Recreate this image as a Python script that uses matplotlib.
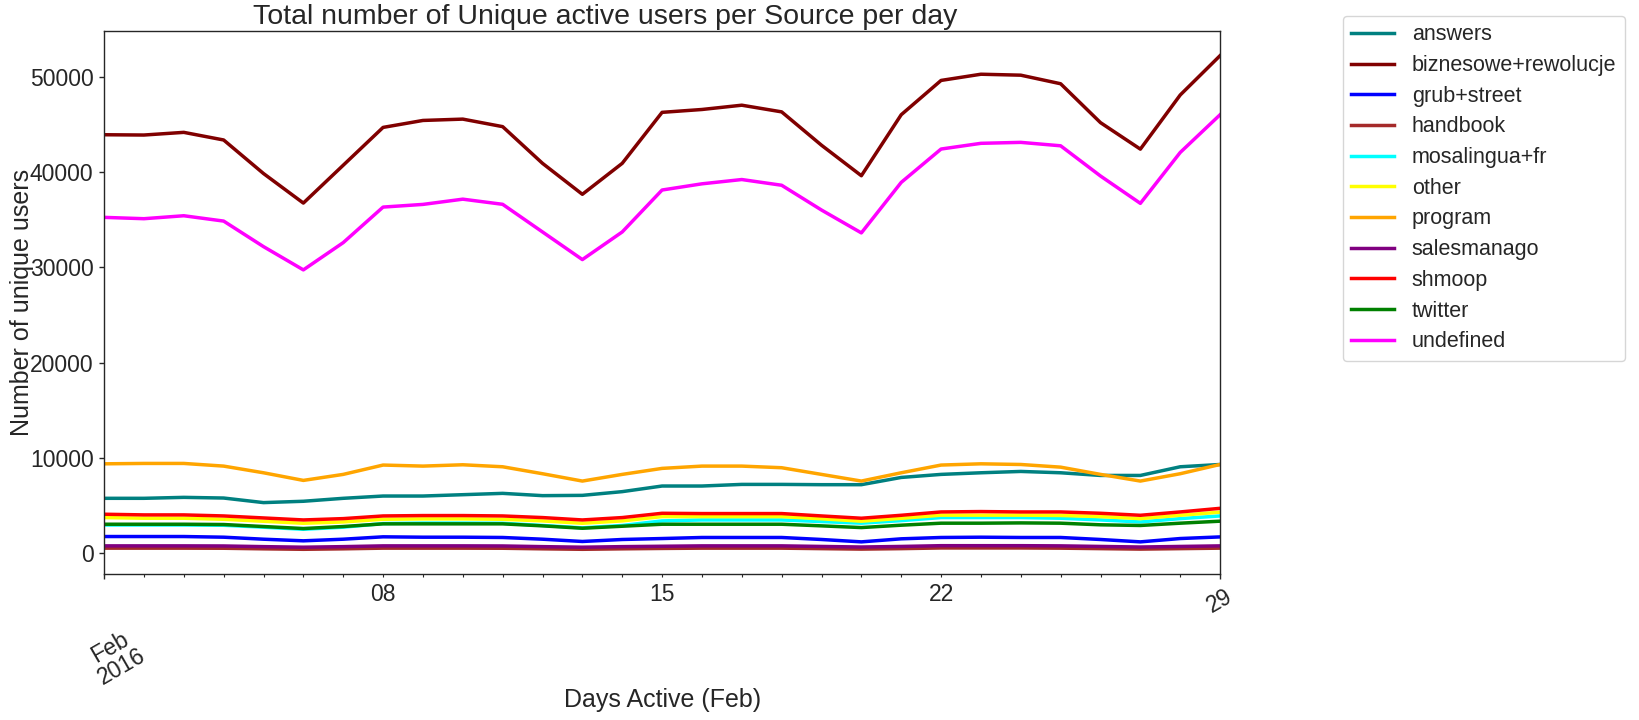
import matplotlib
matplotlib.use("Agg")
import matplotlib.pyplot as plt
import matplotlib.dates as mdates
from matplotlib.ticker import FixedLocator, FixedFormatter
import pandas as pd

dates = pd.date_range("2016-02-01", periods=29, freq="D")

answers = [5750, 5750, 5850, 5780, 5300, 5440, 5750, 5990, 5990, 6130, 6270, 6030, 6060, 6450,
           7040, 7040, 7210, 7210, 7180, 7180, 7940, 8260, 8430, 8570, 8430, 8150, 8150, 9060, 9300]
biznesowe = [43900, 43870, 44150, 43350, 39830, 36730, 40700, 44670, 45400, 45540, 44750, 40900, 37650, 40900,
             46250, 46550, 47000, 46300, 42800, 39600, 46000, 49600, 50250, 50150, 49250, 45170, 42390, 48070, 52200]
grub_street = [1740, 1740, 1740, 1670, 1460, 1290, 1460, 1710, 1670, 1670, 1640, 1460, 1220, 1430,
               1530, 1640, 1640, 1640, 1430, 1180, 1500, 1640, 1670, 1640, 1640, 1430, 1180, 1530, 1700]
handbook = [520, 520, 520, 510, 450, 400, 450, 520, 520, 520, 510, 450, 400, 450,
            490, 520, 520, 520, 470, 420, 470, 540, 540, 540, 520, 470, 420, 470, 520]
mosalingua = [2950, 2950, 2950, 2920, 2720, 2500, 2720, 3100, 3150, 3150, 3130, 2900, 2650, 2900,
              3380, 3480, 3480, 3480, 3310, 3140, 3410, 3730, 3730, 3730, 3660, 3480, 3270, 3620, 3900]
other = [3730, 3660, 3660, 3550, 3340, 3130, 3270, 3550, 3590, 3590, 3550, 3380, 3130, 3380,
         3830, 3830, 3830, 3830, 3600, 3350, 3650, 3980, 3980, 3980, 3950, 3830, 3620, 3970, 4300]
program = [9370, 9410, 9410, 9130, 8430, 7630, 8260, 9240, 9130, 9270, 9060, 8330, 7560, 8260,
           8890, 9130, 9130, 8960, 8260, 7560, 8430, 9240, 9370, 9300, 9020, 8260, 7560, 8330, 9300]
salesmanago = [760, 760, 760, 750, 680, 620, 680, 760, 760, 760, 750, 680, 620, 680,
               720, 760, 760, 760, 700, 640, 700, 780, 780, 780, 760, 700, 640, 700, 760]
shmoop = [4080, 4010, 4010, 3900, 3690, 3480, 3620, 3900, 3940, 3940, 3900, 3730, 3480, 3730,
          4180, 4150, 4150, 4150, 3900, 3660, 3970, 4320, 4360, 4320, 4320, 4180, 3970, 4320, 4700]
twitter = [3030, 3030, 3030, 3000, 2790, 2580, 2790, 3070, 3070, 3070, 3070, 2860, 2610, 2820,
           3030, 3030, 3030, 3030, 2860, 2680, 2930, 3140, 3140, 3170, 3140, 2970, 2900, 3140, 3350]
undefined = [35230, 35090, 35400, 34840, 32160, 29720, 32580, 36310, 36590, 37140, 36600, 33700, 30800, 33700,
             38100, 38750, 39200, 38600, 36000, 33600, 38900, 42400, 43000, 43100, 42740, 39570, 36700, 42040, 46000]

labels = ["answers", "biznesowe+rewolucje", "grub+street", "handbook", "mosalingua+fr", "other",
          "program", "salesmanago", "shmoop", "twitter", "undefined"]
series = [answers, biznesowe, grub_street, handbook, mosalingua, other, program, salesmanago,
          shmoop, twitter, undefined]
colors = ["#008080", "#800000", "#0000ff", "#a52a2a", "#00ffff", "#ffff00", "#ffa500", "#800080",
          "#ff0000", "#008000", "#ff00ff"]

minor_labels_days = [8, 15, 22]

txt = "#262626"
plt.rcParams["font.family"] = ["Liberation Sans", "DejaVu Sans"]
plt.rcParams["text.color"] = txt
plt.rcParams["axes.labelcolor"] = txt
plt.rcParams["xtick.color"] = txt
plt.rcParams["ytick.color"] = txt

fig = plt.figure(figsize=(16.39, 7.2), dpi=100)
ax = fig.add_axes([0.0635, 0.2028, 0.6809, 0.7542])

xd = mdates.date2num(dates.to_pydatetime())
for s, lab, c in zip(series, labels, colors):
    ax.plot(xd, s, color=c, lw=2.5, label=lab)

ax.set_xlim(xd[0], xd[-1])

ax.xaxis.set_major_locator(FixedLocator([xd[0], xd[-1]]))
ax.xaxis.set_major_formatter(FixedFormatter(["\n\nFeb\n2016", "29"]))
minor_locs = list(xd[1:-1])
minor_labs = ["%02d" % d.day if d.day in minor_labels_days else "" for d in dates[1:-1]]
ax.xaxis.set_minor_locator(FixedLocator(minor_locs))
ax.xaxis.set_minor_formatter(FixedFormatter(minor_labs))
for lbl in ax.get_xticklabels(which="major"):
    lbl.set_rotation(30)
    lbl.set_ha("center")
    lbl.set_linespacing(1.0)

ax.tick_params(axis="both", which="major", labelsize=16.5, length=3.6, width=1, pad=4, direction="out")
ax.tick_params(axis="x", which="minor", labelsize=16.5, length=2.5, width=0.8, pad=4, direction="out")
for sp in ax.spines.values():
    sp.set_color(txt)
    sp.set_linewidth(1.0)

ax.set_title("Total number of Unique active users per Source per day", fontsize=20.5, pad=5, x=0.449)
ax.set_ylabel("Number of unique users", fontsize=18)
ax.set_xlabel("Days Active (Feb)", fontsize=18)
ax.yaxis.set_label_coords(-0.063, 0.5)
ax.xaxis.set_label_coords(0.5, -0.21)

leg = ax.legend(loc="upper left", bbox_to_anchor=(1.11, 1.028), borderaxespad=0, fontsize=15.5,
                labelspacing=0.45, frameon=True, fancybox=True)
leg.get_frame().set_edgecolor("#cccccc")

fig.savefig("out.png", dpi=100)
